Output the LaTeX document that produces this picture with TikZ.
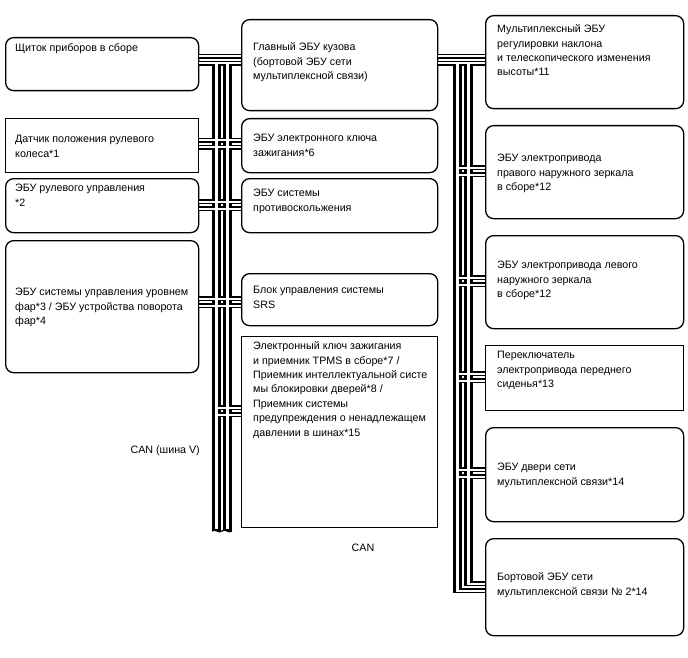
\documentclass[tikz,border=0pt]{standalone}
\usepackage{fontspec}
\setmainfont{Liberation Sans}
\begin{document}
\begin{tikzpicture}[x=1pt,y=-1pt,
 rbox/.style={draw,line width=1.3pt,rounded corners=8pt,inner sep=0pt,anchor=north west},
 sbox/.style={draw,line width=1.3pt,inner sep=0pt,anchor=north west},
 txt/.style={anchor=north west,inner sep=0pt,align=left,font=\fontsize{10.7}{14.4}\selectfont},
 wbv/.style={line width=9pt,black},
 wwv/.style={line width=3pt,white},
 wbh/.style={line width=5.5pt,black},
 wwh/.style={line width=2pt,white},
 lbl/.style={inner sep=0pt,font=\fontsize{10.7}{14.4}\selectfont}]
\useasboundingbox (0,0) rectangle (688,658);
% boxes
\node[rbox,minimum width=193pt,minimum height=53pt] (l1) at (5,37) {};
\node[sbox,minimum width=193pt,minimum height=54pt] (l2) at (5,118) {};
\node[rbox,minimum width=193pt,minimum height=54pt] (l3) at (5,178) {};
\node[rbox,minimum width=193pt,minimum height=132pt] (l4) at (5,240) {};
\node[rbox,minimum width=196pt,minimum height=91pt] (m1) at (241,19) {};
\node[rbox,minimum width=196pt,minimum height=54pt] (m2) at (241,118) {};
\node[rbox,minimum width=196pt,minimum height=54pt] (m3) at (241,178) {};
\node[rbox,minimum width=196pt,minimum height=52pt] (m4) at (241,273) {};
\node[sbox,minimum width=196pt,minimum height=191pt] (m5) at (241,336) {};
\node[rbox,minimum width=198pt,minimum height=93pt] (r1) at (485,15) {};
\node[rbox,minimum width=198pt,minimum height=93pt] (r2) at (485,125) {};
\node[rbox,minimum width=198pt,minimum height=93pt] (r3) at (485,235) {};
\node[sbox,minimum width=198pt,minimum height=65pt] (r4) at (485,345) {};
\node[rbox,minimum width=198pt,minimum height=94pt] (r5) at (485,427) {};
\node[rbox,minimum width=198pt,minimum height=97pt] (r6) at (485,538) {};
% bus coordinates
\coordinate (LA) at (216.5,0);
\coordinate (LB) at (227.5,0);
\coordinate (RA) at (457.5,0);
\coordinate (RB) at (468.5,0);
% ---- black layer
\draw[wbv] (LA |- 0,61) -- (LA |- 0,531);
\draw[wbv] (LB |- 0,61) -- (LB |- 0,531);
\draw[wbv] (RA |- 0,61) -- (RA |- 0,593.25);
\draw[wbv] (RB |- 0,61) -- (RB |- 0,586.25);
\foreach \n/\m/\y in {l1/m1/60,l2/m2/144,l3/m3/205,l4/m4/302}{
  \draw[wbh] (\n.east |- 0,\y-3.5) -- (\m.west |- 0,\y-3.5);
  \draw[wbh] (\n.east |- 0,\y+3.5) -- (\m.west |- 0,\y+3.5);
}
\draw[wbh] (LA |- 0,407.5) -- (m5.west |- 0,407.5);
\draw[wbh] (LA |- 0,414.5) -- (m5.west |- 0,414.5);
\draw[wbh] (m1.east |- 0,56.5) -- (r1.west |- 0,56.5);
\draw[wbh] (m1.east |- 0,63.5) -- (r1.west |- 0,63.5);
\foreach \r/\y in {r2/171,r3/281,r4/377,r5/473}{
  \draw[wbh] (RA |- 0,\y-3.5) -- (\r.west |- 0,\y-3.5);
  \draw[wbh] (RA |- 0,\y+3.5) -- (\r.west |- 0,\y+3.5);
}
\draw[wbh] (RA |- 0,590.5) -- (r6.west |- 0,590.5);
\draw[wbh] (RB |- 0,583.5) -- (r6.west |- 0,583.5);
% ---- white layer
\draw[wwv] (LA |- 0,63.5) -- (LA |- 0,529);
\draw[wwv] (LB |- 0,63.5) -- (LB |- 0,529);
\draw[wwv] (RA |- 0,63.5) -- (RA |- 0,591.5);
\draw[wwv] (RB |- 0,63.5) -- (RB |- 0,584.5);
\foreach \n/\m/\y in {l1/m1/60,l2/m2/144,l3/m3/205,l4/m4/302}{
  \draw[wwh] (\n.east |- 0,\y-3.5) -- (\m.west |- 0,\y-3.5);
  \draw[wwh] (\n.east |- 0,\y+3.5) -- (\m.west |- 0,\y+3.5);
}
\draw[wwh] (LA |- 0,407.5) -- (m5.west |- 0,407.5);
\draw[wwh] (LA |- 0,414.5) -- (m5.west |- 0,414.5);
\draw[wwh] (m1.east |- 0,56.5) -- (r1.west |- 0,56.5);
\draw[wwh] (m1.east |- 0,63.5) -- (r1.west |- 0,63.5);
\foreach \r/\y in {r2/171,r3/281,r4/377,r5/473}{
  \draw[wwh] (RA |- 0,\y-3.5) -- (\r.west |- 0,\y-3.5);
  \draw[wwh] (RA |- 0,\y+3.5) -- (\r.west |- 0,\y+3.5);
}
\draw[wwh] (456,590.5) -- (r6.west |- 0,590.5);
\draw[wwh] (467,583.5) -- (r6.west |- 0,583.5);
% cut end of the left bus
\draw[line width=1.2pt] (212,531) .. controls (216,528) and (218,534) .. (222,531) .. controls (226,528) and (228,534) .. (232,531);
% texts
\node[txt] (l1t) at (15,41.4) {\strut Щиток приборов в сборе};
\node[txt] (l2t) at (15,132.4) {\strut Датчик положения рулевого\\колеса*1};
\node[txt] (l3t) at (15,181.4) {\strut ЭБУ рулевого управления\\*2};
\node[txt] (l4t) at (15,285.4) {\strut ЭБУ системы управления уровнем\\фар*3 / ЭБУ устройства поворота\\фар*4};
\node[txt] (m1t) at (253,40.4) {\strut Главный ЭБУ кузова\\(бортовой ЭБУ сети\\мультиплексной связи)};
\node[txt] (m2t) at (253,131.4) {\strut ЭБУ электронного ключа\\зажигания*6};
\node[txt] (m3t) at (253,186.4) {\strut ЭБУ системы\\противоскольжения};
\node[txt] (m4t) at (253,283.4) {\strut Блок управления системы\\SRS};
\node[txt] (m5t) at (253,339.4) {\strut Электронный ключ зажигания\\и приемник TPMS в сборе*7 /\\Приемник интеллектуальной систе\\мы блокировки дверей*8 /\\Приемник системы\\предупреждения о ненадлежащем\\давлении в шинах*15};
\node[txt] (r1t) at (497,22.4) {\strut Мультиплексный ЭБУ\\регулировки наклона\\и телескопического изменения\\высоты*11};
\node[txt] (r2t) at (497,151.4) {\strut ЭБУ электропривода\\правого наружного зеркала\\в сборе*12};
\node[txt] (r3t) at (497,258.4) {\strut ЭБУ электропривода левого\\наружного зеркала\\в сборе*12};
\node[txt] (r4t) at (497,348.4) {\strut Переключатель\\электропривода переднего\\сиденья*13};
\node[txt] (r5t) at (497,460.4) {\strut ЭБУ двери сети\\мультиплексной связи*14};
\node[txt] (r6t) at (497,570.4) {\strut Бортовой ЭБУ сети\\мультиплексной связи № 2*14};
\node[lbl,anchor=east] (can1) at (200,451) {CAN (шина V)};
\node[lbl] (can2) at (363,548) {CAN};
\end{tikzpicture}
\end{document}
